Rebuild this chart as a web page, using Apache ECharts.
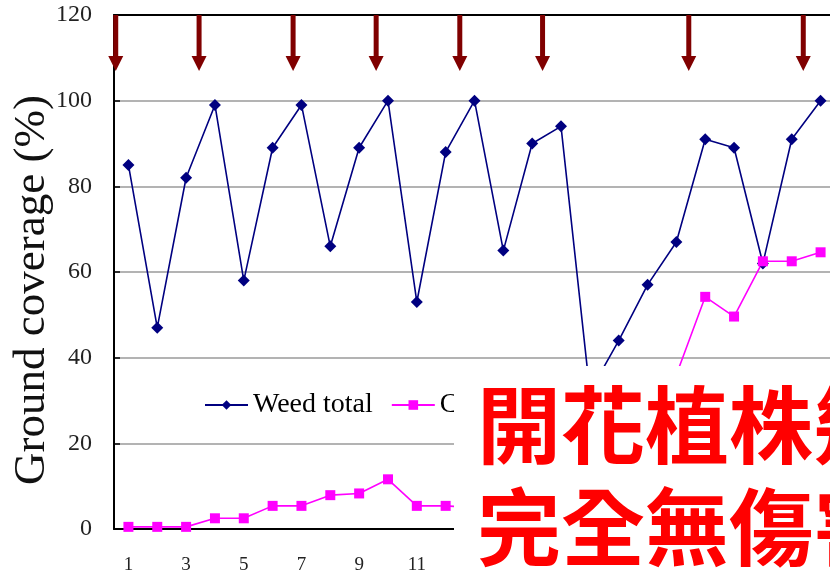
<!DOCTYPE html>
<html>
<head>
<meta charset="utf-8">
<script src="https://cdn.jsdelivr.net/npm/echarts@6/dist/echarts.min.js"></script>
<style>
html,body{margin:0;padding:0;background:#fff;overflow:hidden;}
#chart{width:830px;height:576px;}
</style>
</head>
<body>
<div id="chart"></div>
<script>
const categories = ['1','2','3','4','5','6','7','8','9','10','11','12','13','14','15','16','17','18','19','20','21','22','23','24','25'];
const weedTotal = [85,47,82,99,58,89,99,66,89,100,53,88,100,65,90,94,32,44,57,67,91,89,62,91,100];
const cloverCover = [0.5,0.5,0.5,2.5,2.5,5.4,5.4,7.9,8.3,11.6,5.4,5.4,5,6,12,18,22,30,36,36,54.2,49.6,62.5,62.5,64.6];
const cuttingPositions = [0.56,3.45,6.71,9.59,12.49,15.36,20.43,24.40];
const yTicks = {min:0, max:120, interval:20};
const overlayLines = ['開花植株幾乎', '完全無傷害'];

const serif = '"Liberation Serif","Times New Roman",serif';
const chart = echarts.init(document.getElementById('chart'));

chart.setOption({
  animation: false,
  backgroundColor: '#fff',
  grid: {left: 114, right: -5, top: 15, bottom: 47, outerBoundsMode: 'none', containLabel: false},
  legend: {
    left: 204, top: 391, padding: 0,
    itemWidth: 43, itemHeight: 12, itemGap: 18,
    textStyle: {fontFamily: serif, fontSize: 28, color: '#000'},
    data: ['Weed total', 'Clover']
  },
  xAxis: [{
    type: 'category',
    data: categories,
    boundaryGap: true,
    axisLine: {lineStyle: {color: '#000', width: 2}},
    axisTick: {inside: true, length: 6, interval: 0, lineStyle: {color: '#000', width: 1.5}},
    axisLabel: {interval: 1, margin: 27, fontFamily: serif, fontSize: 19, color: '#222'},
    splitLine: {show: false}
  }, {
    type: 'value',
    position: 'top',
    min: 0.5, max: 25.5,
    axisLine: {show: true, onZero: false, lineStyle: {color: '#000', width: 2}},
    axisTick: {show: false},
    axisLabel: {show: false},
    splitLine: {show: false}
  }],
  yAxis: {
    type: 'value',
    min: yTicks.min, max: yTicks.max, interval: yTicks.interval,
    name: 'Ground coverage (%)',
    nameLocation: 'middle',
    nameRotate: 90,
    nameGap: 59,
    nameMoveOverlap: false,
    nameTextStyle: {fontFamily: serif, fontSize: 45, color: '#111', padding: [0, 36, 0, 0]},
    axisLine: {show: true, lineStyle: {color: '#000', width: 2}},
    axisTick: {show: true, inside: true, length: 6, lineStyle: {color: '#000', width: 1.5}},
    axisLabel: {margin: 22, fontFamily: serif, fontSize: 24, color: '#222'},
    splitLine: {show: true, lineStyle: {color: '#9a9a9a', width: 1.5}}
  },
  series: [{
    name: 'Weed total',
    type: 'line',
    data: weedTotal,
    symbol: 'diamond',
    symbolSize: 12,
    itemStyle: {color: '#000080'},
    lineStyle: {color: '#000080', width: 1.6},
    z: 3
  }, {
    name: 'Clover',
    type: 'line',
    data: cloverCover,
    symbol: 'rect',
    symbolSize: 10,
    itemStyle: {color: '#ff00ff'},
    lineStyle: {color: '#ff00ff', width: 1.6},
    z: 3
  }, {
    name: 'Cutting',
    type: 'custom',
    xAxisIndex: 1,
    yAxisIndex: 0,
    clip: false,
    z: 5,
    data: cuttingPositions.map(v => [v, yTicks.max]),
    renderItem: function (params, api) {
      const p = api.coord([api.value(0), api.value(1)]);
      const shaftW = 5, shaftL = 41, headW = 15, headL = 15;
      return {
        type: 'group',
        children: [{
          type: 'rect',
          shape: {x: p[0] - shaftW / 2, y: p[1], width: shaftW, height: shaftL},
          style: {fill: '#800000'}
        }, {
          type: 'polygon',
          shape: {points: [[p[0] - headW / 2, p[1] + shaftL], [p[0] + headW / 2, p[1] + shaftL], [p[0], p[1] + shaftL + headL]]},
          style: {fill: '#800000'}
        }]
      };
    }
  }],
  graphic: [{
    type: 'rect', z: 100,
    shape: {x: 454, y: 366, width: 420, height: 240},
    style: {fill: '#fff'}
  }, {
    type: 'text', z: 101, x: 477, y: 383,
    style: {text: overlayLines[0], font: 'bold 84px "Noto Sans CJK TC"', fill: '#ff0000', textVerticalAlign: 'top'}
  }, {
    type: 'text', z: 101, x: 477, y: 485,
    style: {text: overlayLines[1], font: 'bold 84px "Noto Sans CJK TC"', fill: '#ff0000', textVerticalAlign: 'top'}
  }]
});
</script>
</body>
</html>
